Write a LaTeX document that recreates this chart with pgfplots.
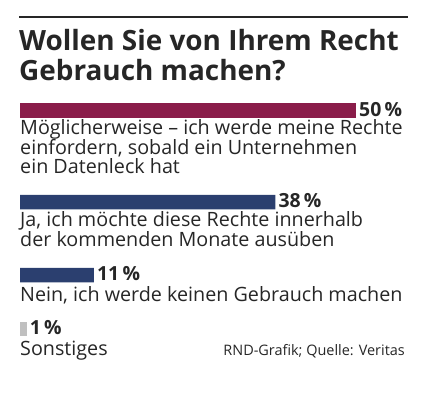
\documentclass[border=0pt]{standalone}
\usepackage{pgfplots}
\pgfplotsset{compat=1.18}
\usepackage{fontspec}
\setmainfont{Open Sans}
\definecolor{maroon}{HTML}{8A1D4A}
\definecolor{navy}{HTML}{2B3F6F}
\definecolor{lgray}{HTML}{C0C0C0}
\definecolor{txt}{HTML}{262626}
\begin{document}
\begin{tikzpicture}[x=1bp,y=1bp]
\useasboundingbox (0,0) rectangle (426,398);
\begin{axis}[
  at={(20bp,0bp)}, anchor=south west,
  width=336bp, height=398bp, scale only axis,
  xmin=0, xmax=50, ymin=0, ymax=398, y dir=reverse,
  hide axis, clip=false,
  xbar, bar width=14.5, bar shift=0pt,
  point meta=x,
  /pgf/number format/assume math mode=true,
  nodes near coords={\pgfmathprintnumber{\pgfplotspointmeta}\,\%},
  every node near coord/.style={anchor=west, inner sep=0pt, xshift=3bp, yshift=1bp, text=txt,
     font=\fontsize{19.5}{18}\selectfont\bfseries},
]
\addplot[fill=maroon, draw=none] coordinates {(50,110.5)};
\addplot[fill=navy, draw=none] coordinates {(38,202) (11,275)};
\addplot[fill=lgray, draw=none] coordinates {(1,329)};
\end{axis}
\draw[txt, line width=2bp] (19,381) -- (408,381);
\node[anchor=base west, inner sep=0pt, align=left, text=txt,
  font=\fontsize{28}{30}\selectfont\bfseries] at (19,318)
  {Wollen Sie von Ihrem Recht\\Gebrauch machen?};
\node[anchor=base west, inner sep=0pt, align=left, text=txt,
  font=\fontsize{19.8}{18.2}\selectfont] at (20,225)
  {Möglicherweise – ich werde meine Rechte\\einfordern, sobald ein Unternehmen\\ein Datenleck hat};
\node[anchor=base west, inner sep=0pt, align=left, text=txt,
  font=\fontsize{19.8}{18.2}\selectfont] at (20,152)
  {Ja, ich möchte diese Rechte innerhalb\\der kommenden Monate ausüben};
\node[anchor=base west, inner sep=0pt, align=left, text=txt,
  font=\fontsize{19.8}{18.2}\selectfont] at (20,97)
  {Nein, ich werde keinen Gebrauch machen};
\node[anchor=base west, inner sep=0pt, align=left, text=txt,
  font=\fontsize{19.8}{18.2}\selectfont] at (20,43)
  {Sonstiges};
\node[anchor=base east, inner sep=0pt, text=txt,
  font=\fontsize{14.5}{14}\selectfont] at (405,43)
  {RND-Grafik; Quelle: Veritas};
\end{tikzpicture}
\end{document}
